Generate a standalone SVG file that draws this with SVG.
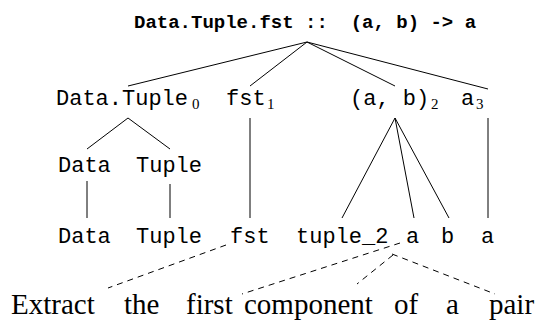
<svg xmlns="http://www.w3.org/2000/svg" width="554" height="320" viewBox="0 0 554 320">
<style>
.t{font-family:"Liberation Mono","Courier New",monospace;font-size:19px;font-weight:bold;fill:#000}
.n{font-family:"Liberation Mono","Courier New",monospace;font-size:22px;fill:#000}
.s{font-family:"Liberation Serif","Times New Roman",serif;font-size:15px;fill:#000}
.e{font-family:"Liberation Serif","Times New Roman",serif;font-size:29px;fill:#000}
.l{stroke:#000;stroke-width:1;fill:none}
.d{stroke:#000;stroke-width:1;fill:none;stroke-dasharray:6 5}
</style>
<rect width="554" height="320" fill="#fff"/>
<g id="root"><text class="t" x="134" y="28">Data.Tuple.fst ::&#160; (a, b) -&gt; a</text></g>
<g id="n-datatuple0"><text class="n" x="56" y="105">Data.Tuple</text><text class="s" x="192" y="109">0</text></g>
<g id="n-fst1"><text class="n" x="226" y="105">fst</text><text class="s" x="267" y="109">1</text></g>
<g id="n-ab2"><text class="n" x="350" y="105">(a, b)</text><text class="s" x="431" y="109">2</text></g>
<g id="n-a3"><text class="n" x="461" y="105">a</text><text class="s" x="476" y="109">3</text></g>
<g id="n-data"><text class="n" x="58" y="172">Data</text></g>
<g id="n-tuple"><text class="n" x="136" y="172">Tuple</text></g>
<g id="l-data"><text class="n" x="58" y="243">Data</text></g>
<g id="l-tuple"><text class="n" x="136" y="243">Tuple</text></g>
<g id="l-fst"><text class="n" x="230" y="243">fst</text></g>
<g id="l-tuple2"><text class="n" x="296" y="243">tuple_2</text></g>
<g id="l-a"><text class="n" x="406" y="243">a</text></g>
<g id="l-b"><text class="n" x="441" y="243">b</text></g>
<g id="l-a2"><text class="n" x="481" y="243">a</text></g>
<g id="sentence"><text class="e" y="314"><tspan x="11">Extract</tspan><tspan x="124">the</tspan><tspan x="186">first</tspan><tspan x="244">component</tspan><tspan x="394">of</tspan><tspan x="446">a</tspan><tspan x="489">pair</tspan></text></g>
<g id="connectors">
<path class="l" d="M307 42L128 86M307 42L250 86M307 42L395 86M307 42L488 89"/>
<path class="l" d="M128 118L87 149M128 118L170 149"/>
<path class="l" d="M250 118V218M87 181V218M170 184V218M488 118V218"/>
<path class="l" d="M395 118L342 218M395 118L414 218M395 118L449 218"/>
<path class="d" d="M226 245L108 288M400 243L242 294M393 255L357 284M392 254L495 294"/>
</g>
</svg>
